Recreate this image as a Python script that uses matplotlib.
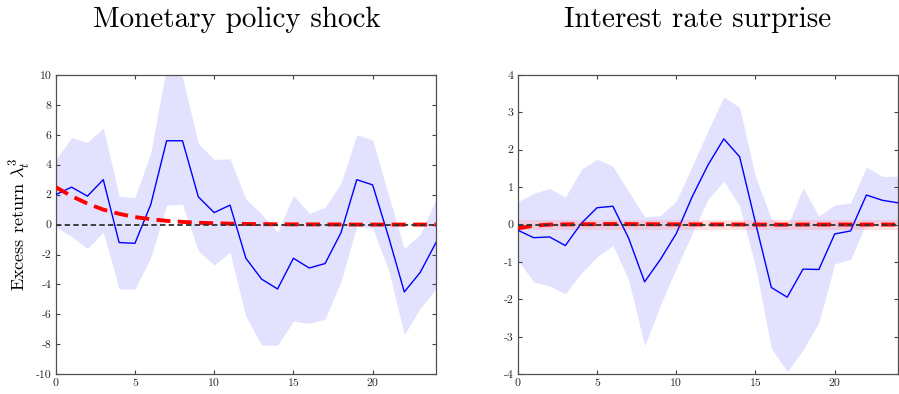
import matplotlib
matplotlib.use("Agg")
import matplotlib.pyplot as plt
import numpy as np

plt.rcParams['font.family'] = 'serif'
plt.rcParams['font.serif'] = ['cmr10', 'DejaVu Serif']
plt.rcParams['mathtext.fontset'] = 'cm'
plt.rcParams['axes.unicode_minus'] = False

# Horizons
horizon = np.arange(25)

# Monetary policy shock: estimate, bands, model response
mp_est = [2.0, 2.5, 1.9, 3.0, -1.2, -1.25, 1.35, 5.6, 5.6, 1.85, 0.8, 1.3, -2.25,
          -3.65, -4.3, -2.25, -2.9, -2.6, -0.55, 3.0, 2.65, -0.8, -4.5, -3.2, -1.2]
mp_upper = [4.35, 5.8, 5.5, 6.45, 1.9, 1.8, 4.8, 10.6, 9.85, 5.4, 4.35, 4.4, 1.7,
            0.7, -0.5, 1.95, 0.75, 1.15, 2.75, 6.0, 5.65, 2.0, -1.6, -0.65, 1.7]
mp_lower = [-0.15, -0.8, -1.6, -0.5, -4.3, -4.3, -2.2, 1.3, 1.35, -1.75, -2.7, -1.85, -6.15,
            -8.05, -8.05, -6.45, -6.6, -6.3, -3.8, -0.1, -0.25, -3.0, -7.35, -5.6, -4.3]
mp_model = [2.5, 1.9, 1.4, 1.0, 0.72, 0.5, 0.36, 0.25, 0.18, 0.12, 0.09, 0.06, 0.04,
            0.03, 0.02, 0.015, 0.01, 0.01, 0.005, 0.0, 0.0, 0.0, 0.0, 0.0, 0.0]

# Interest rate surprise
ir_est = [-0.15, -0.35, -0.33, -0.56, 0.03, 0.45, 0.49, -0.37, -1.53, -0.93, -0.24, 0.74, 1.59,
          2.29, 1.81, 0.05, -1.68, -1.94, -1.19, -1.2, -0.25, -0.17, 0.79, 0.65, 0.58]
ir_upper = [0.61, 0.83, 0.97, 0.73, 1.47, 1.75, 1.56, 0.88, 0.21, 0.24, 0.63, 1.56, 2.5,
            3.41, 3.13, 1.28, 0.15, -0.05, 0.98, 0.23, 0.52, 0.58, 1.54, 1.29, 1.29]
ir_lower = [-0.95, -1.53, -1.64, -1.85, -1.3, -0.86, -0.56, -1.48, -3.24, -2.15, -1.17, -0.24, 0.67,
            1.16, 0.49, -1.12, -3.3, -3.93, -3.35, -2.62, -1.05, -0.93, 0.05, 0.05, 0.0]
ir_model = [-0.1, -0.03, 0.0, 0.005, 0.01, 0.01, 0.015, 0.012, 0.01, 0.008, 0.006, 0.005, 0.004,
            0.003, 0.002, 0.0, -0.002, -0.002, 0.0, 0.001, 0.001, 0.0, 0.0, 0.0, 0.0]
ir_model_upper = [0.12] * 25
ir_model_lower = [-0.15] * 25

fig = plt.figure(figsize=(8.99, 3.94), dpi=100)
ax1 = fig.add_axes([0.062, 0.050, 0.423, 0.760])
ax2 = fig.add_axes([0.576, 0.050, 0.423, 0.760])

panels = [
    (ax1, "Monetary policy shock", 0.263, mp_est, mp_upper, mp_lower, mp_model, None, None,
     (-10, 10), np.arange(-10, 11, 2)),
    (ax2, "Interest rate surprise", 0.776, ir_est, ir_upper, ir_lower, ir_model,
     ir_model_upper, ir_model_lower, (-4, 4), np.arange(-4, 5, 1)),
]

for ax, title, tx, est, up, lo, model, mup, mlo, ylim, yticks in panels:
    ax.fill_between(horizon, lo, up, color='#e2e2ff', lw=0, zorder=1)
    if mup is not None:
        ax.fill_between(horizon, mlo, mup, color='#ff9999', alpha=0.3, lw=0, zorder=2)
    ax.plot(horizon, est, color='#0000ff', lw=1.0, zorder=3)
    ax.plot(horizon, model, color='#ff0000', lw=2.8, dashes=(3.6, 1.9), zorder=4)
    ax.axhline(0, color='#333333', lw=1.3, dashes=(3, 1.8), zorder=5)

    ax.set_xlim(0, 24)
    ax.set_ylim(*ylim)
    ax.set_xticks([0, 5, 10, 15, 20])
    ax.set_yticks(yticks)
    ax.tick_params(direction='in', top=True, right=True, length=3, width=0.8,
                   labelsize=8.5, colors='#404040', labelcolor='#262626', pad=3)
    for s in ax.spines.values():
        s.set_color('#505050')
        s.set_linewidth(0.9)

    fig.text(tx, 0.950, title, ha='center', va='center', fontsize=21)

ax1.set_ylabel(r'Excess return $\lambda_t^3$', fontsize=13, labelpad=2)

fig.savefig('out.png', dpi=100)
